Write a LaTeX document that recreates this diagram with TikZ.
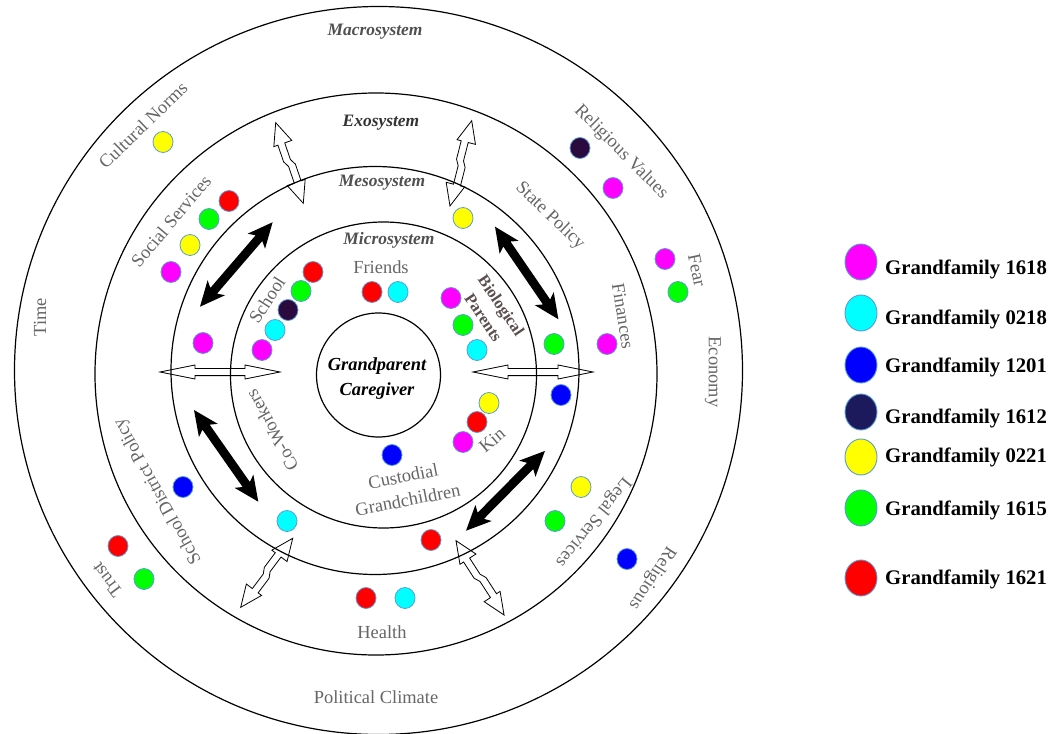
\documentclass[tikz,border=0pt]{standalone}
\usepackage{fontspec}
\setmainfont{Liberation Serif}
\usetikzlibrary{shapes.geometric}
\definecolor{lblgray}{HTML}{666666}
\definecolor{sysgray}{HTML}{505050}
\definecolor{exogray}{HTML}{333333}
\definecolor{biogray}{HTML}{5A4E4E}
\definecolor{dotedge}{HTML}{5B9BD5}
\definecolor{cmag}{HTML}{FF00FF}
\definecolor{ccyan}{HTML}{00FFFF}
\definecolor{cblue}{HTML}{0000FF}
\definecolor{cdark}{HTML}{2B0A3D}
\definecolor{cnavy}{HTML}{1C1A5C}
\definecolor{cyellow}{HTML}{FFFF00}
\definecolor{cgreen}{HTML}{00FF00}
\definecolor{cred}{HTML}{FF0000}
% #1 start coordinate, #2 angle, #3 length, #4 head length, #5 head half width, #6 kink offset
\newcommand{\wharrow}[6]{%
  \begin{scope}[shift={(#1)}, rotate=#2]
    \draw[wharrowstyle] (0,0) -- (#4,#5) -- (#4,{3.6+#6}) -- ({#3/2-3},{3.6+#6}) -- ({#3/2+3},{3.6-#6})
      -- ({#3-#4},{3.6-#6}) -- ({#3-#4},#5) -- (#3,0) -- ({#3-#4},-#5) -- ({#3-#4},{-3.6-#6})
      -- ({#3/2+3},{-3.6-#6}) -- ({#3/2-3},{-3.6+#6}) -- (#4,{-3.6+#6}) -- (#4,-#5) -- cycle;
  \end{scope}}
% #1 start coordinate, #2 angle, #3 length
\newcommand{\blkarrow}[3]{%
  \begin{scope}[shift={(#1)}, rotate=#2]
    \fill[black] (0,0) -- (25,11.5) -- (21,4.4) -- ({#3-21},4.4) -- ({#3-25},11.5) -- (#3,0)
      -- ({#3-25},-11.5) -- ({#3-21},-4.4) -- (21,-4.4) -- (25,-11.5) -- cycle;
  \end{scope}}
\begin{document}
\begin{tikzpicture}[x=1bp,y=-1bp,
  ring/.style={circle, draw=black, line width=1.2bp, inner sep=0pt, outer sep=0pt},
  wharrowstyle/.style={draw=black, fill=white, line width=0.8bp, line join=miter},
  lbl/.style={text=lblgray, font=\fontsize{18.5}{24}\selectfont, inner sep=0pt},
  biolbl/.style={text=biogray, font=\fontsize{16.5}{21.5}\selectfont\bfseries, inner sep=0pt},
  syslbl/.style={text=sysgray, font=\fontsize{17.5}{21}\selectfont\bfseries\itshape, inner sep=0pt},
  corelbl/.style={text=black, font=\fontsize{18.5}{25}\selectfont\bfseries\itshape, inner sep=0pt},
  dot/.style={ellipse, draw=dotedge, line width=0.8bp, minimum width=20bp, minimum height=21bp, inner sep=0pt},
  ldot/.style={ellipse, draw=dotedge, line width=0.9bp, minimum width=32bp, minimum height=36bp, inner sep=0pt},
  legtext/.style={text=black, font=\fontsize{20.8}{24}\selectfont\bfseries, inner sep=0pt, anchor=base west}
]
\useasboundingbox (0,0) rectangle (1052,734);
\fill[white] (0,0) rectangle (1052,734);

% ---------- white (outline) double arrows ----------
\coordinate (wa1) at (275.7,122.7);
\coordinate (wa2) at (471.7,120.7);
\coordinate (wa3) at (292.7,538.3);
\coordinate (wa4) at (456,540.7);
\coordinate (wa5) at (160,372);
\coordinate (wa6) at (473,372);
\wharrow{wa1}{-71.1}{85.2}{22}{9.5}{1.6}
\wharrow{wa2}{-104.3}{88}{22}{9.5}{1.6}
\wharrow{wa3}{-127}{86.4}{22}{9.5}{1.6}
\wharrow{wa4}{-57.1}{88.5}{22}{9.5}{1.6}
\wharrow{wa5}{0}{120}{35}{7}{0}
\wharrow{wa6}{0}{120}{35}{7}{0}

% ---------- system circles ----------
\node[ring, minimum size=728bp] (macroC) at (378.5,370.5) {};
\node[ring, minimum size=562bp] (exoC) at (376,374) {};
\node[ring, minimum size=408bp] (mesoC) at (375,370.5) {};
\node[ring, minimum size=306bp] (microC) at (383.5,375) {};
\node[ring, minimum size=124bp] (coreC) at (378.5,375) {};

% ---------- black double arrows ----------
\coordinate (ba1) at (200,306.7);
\coordinate (ba2) at (495,226.7);
\coordinate (ba3) at (194,410);
\coordinate (ba4) at (466,530.7);
\blkarrow{ba1}{49.3}{111.4}
\blkarrow{ba2}{-55.6}{112.2}
\blkarrow{ba3}{-54.96}{112}
\blkarrow{ba4}{45.3}{112.2}

% ---------- labels ----------
\node[syslbl] (macroL) at (375,32) {Macrosystem};
\node[syslbl, text=exogray] (exoL) at (381,123) {Exosystem};
\node[syslbl] (mesoL) at (382,183) {Mesosystem};
\node[syslbl] (microL) at (389,240) {Microsystem};
\node[corelbl, align=center] (coreL) at (377,379) {Grandparent\\Caregiver};

\node[lbl, rotate=44] (cult) at (143,125) {Cultural Norms};
\node[lbl, rotate=90] (time) at (40,317) {Time};
\node[lbl, rotate=50] (soc) at (171,221) {Social Services};
\node[lbl, rotate=57] (school) at (267,300) {School};
\node[lbl] (friends) at (381,267) {Friends};
\node[biolbl, rotate=-56, align=center] (bio) at (492.5,311.6) {Biological\\Parents};
\node[lbl, rotate=-81] (fin) at (623,316) {Finances};
\node[lbl, rotate=-78] (fear) at (697,270) {Fear};
\node[lbl, rotate=-90] (econ) at (713,372) {Economy};
\node[lbl, rotate=-45] (relval) at (621,152) {Religious Values};
\node[lbl, rotate=-44] (state) at (550,216) {State Policy};
\node[lbl, rotate=40] (kin) at (492,440) {Kin};
\node[lbl, rotate=11, align=center] (cust) at (405.5,488) {Custodial\\Grandchildren};
\node[lbl, rotate=119] (cow) at (272,430) {Co-Workers};
\node[lbl, rotate=119] (sdp) at (158,491) {School District Policy};
\node[lbl, rotate=127] (trust) at (107,580) {Trust};
\node[lbl, rotate=-129] (legal) at (593,522) {Legal Services};
\node[lbl, rotate=-123] (relig) at (652,578) {Religious};
\node[lbl] (health) at (382,632) {Health};
\node[lbl] (pol) at (376,697) {Political Climate};

% ---------- dots: Grandfamily 1618 (magenta) ----------
\node[dot, fill=cmag] (m1) at (171,272) {};
\node[dot, fill=cmag] (m2) at (203,343) {};
\node[dot, fill=cmag] (m3) at (262,350) {};
\node[dot, fill=cmag] (m4) at (451,298) {};
\node[dot, fill=cmag] (m5) at (613,188) {};
\node[dot, fill=cmag] (m6) at (665,259) {};
\node[dot, fill=cmag] (m7) at (607,344) {};
\node[dot, fill=cmag] (m8) at (463,442) {};
% 0218 (cyan)
\node[dot, fill=ccyan] (c1) at (275,330) {};
\node[dot, fill=ccyan] (c2) at (398,292) {};
\node[dot, fill=ccyan] (c3) at (477,350) {};
\node[dot, fill=ccyan] (c4) at (287,521) {};
\node[dot, fill=ccyan] (c5) at (405,598) {};
% 1201 (blue)
\node[dot, fill=cblue] (b1) at (561,395) {};
\node[dot, fill=cblue] (b2) at (392,455) {};
\node[dot, fill=cblue] (b3) at (183,487) {};
\node[dot, fill=cblue] (b4) at (627,559) {};
% 1612 (dark)
\node[dot, fill=cdark] (k1) at (288,310) {};
\node[dot, fill=cdark] (k2) at (580,148) {};
% 0221 (yellow)
\node[dot, fill=cyellow] (y1) at (163,142) {};
\node[dot, fill=cyellow] (y2) at (190,245) {};
\node[dot, fill=cyellow] (y3) at (463,218) {};
\node[dot, fill=cyellow] (y4) at (489,403) {};
\node[dot, fill=cyellow] (y5) at (581,487) {};
% 1615 (green)
\node[dot, fill=cgreen] (g1) at (209,219) {};
\node[dot, fill=cgreen] (g2) at (301,291) {};
\node[dot, fill=cgreen] (g3) at (463,325) {};
\node[dot, fill=cgreen] (g4) at (554,344) {};
\node[dot, fill=cgreen] (g5) at (678,292) {};
\node[dot, fill=cgreen] (g6) at (555,521) {};
\node[dot, fill=cgreen] (g7) at (144,579) {};
% 1621 (red)
\node[dot, fill=cred] (r1) at (229,201) {};
\node[dot, fill=cred] (r2) at (313,272) {};
\node[dot, fill=cred] (r3) at (372,292) {};
\node[dot, fill=cred] (r4) at (477,422) {};
\node[dot, fill=cred] (r5) at (431,540) {};
\node[dot, fill=cred] (r6) at (366,598) {};
\node[dot, fill=cred] (r7) at (118,546) {};

% ---------- legend ----------
\node[ldot, fill=cmag] (l1) at (861,262) {};
\node[legtext] (t1) at (885,274) {Grandfamily 1618};
\node[ldot, fill=ccyan] (l2) at (861,313) {};
\node[legtext] (t2) at (885,324) {Grandfamily 0218};
\node[ldot, fill=cblue] (l3) at (861,365) {};
\node[legtext] (t3) at (885,372) {Grandfamily 1201};
\node[ldot, fill=cnavy] (l4) at (861,412) {};
\node[legtext] (t4) at (885,423) {Grandfamily 1612};
\node[ldot, fill=cyellow] (l5) at (861,457) {};
\node[legtext] (t5) at (885,462) {Grandfamily 0221};
\node[ldot, fill=cgreen] (l6) at (861,508) {};
\node[legtext] (t6) at (885,515) {Grandfamily 1615};
\node[ldot, fill=cred] (l7) at (861,578) {};
\node[legtext] (t7) at (885,584) {Grandfamily 1621};
\end{tikzpicture}
\end{document}
